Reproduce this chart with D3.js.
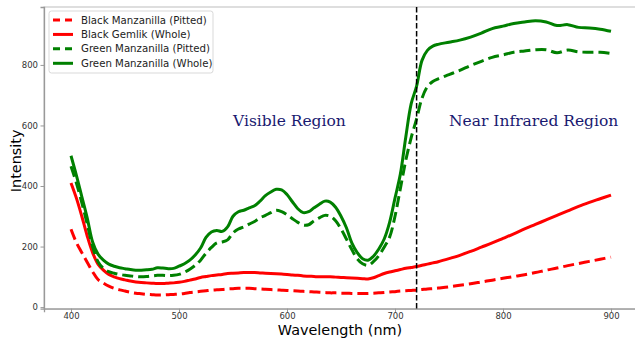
<!DOCTYPE html>
<html>
<head>
<meta charset="utf-8">
<script src="https://cdn.jsdelivr.net/npm/d3@7"></script>
<style>
  html, body { margin: 0; padding: 0; background: #fff; }
  svg { display: block; }
</style>
</head>
<body>
<svg id="chart" width="635" height="340"></svg>
<script>
// Wavelength grid (nm): 5 nm steps through the visible band, 10 nm in the NIR
const wavelengths = [
  400,405,410,415,420,425,430,435,440,445,450,455,460,465,470,475,480,485,490,495,
  500,505,510,515,520,525,530,535,540,545,550,555,560,565,570,575,580,585,590,595,
  600,605,610,615,620,625,630,635,640,645,650,655,660,665,670,675,680,685,690,695,
  700,705,710,715,720,725,730,735,740,
  750,760,770,780,790,800,810,820,830,840,850,860,870,880,890,900
];

const blackManzanillaPitted = [
  257,213,180,148,117,91,79,69,62,57,53,49,46,44,42,41,40,40,41,42,
  43,45,48,50,52,54,56,57,58,60,61,62,62,62,61,60,59,58,57,56,
  55,54,53,52,51,50,49,48,47,47,46,46,45,45,45,45,46,47,48,50,
  51,53,54,55,56,58,60,61,63,
  67,72,77,83,89,95,101,107,114,122,129,137,144,151,158,165
];

const blackGemlikWhole = [
  410,360,300,235,180,142,122,108,100,94,90,86,83,81,80,79,78,78,79,80,
  82,85,89,93,98,101,104,106,108,111,112,113,114,114,114,113,112,111,110,109,
  108,106,105,103,102,101,100,100,100,99,98,97,96,95,94,93,97,104,111,116,
  120,124,128,131,134,138,142,146,150,
  160,171,184,198,212,227,242,258,273,288,303,318,333,346,358,370
];

const greenManzanillaPitted = [
  465,410,345,275,200,150,128,117,112,108,105,103,101,100,101,103,105,105,104,105,
  108,115,125,138,155,178,197,212,215,222,245,258,265,274,283,295,303,312,320,315,
  305,292,280,271,272,285,295,303,300,285,258,225,190,160,143,138,150,170,198,231,
  300,392,485,560,622,690,728,745,754,
  768,782,798,812,825,833,842,846,850,850,840,849,843,842,842,838
];

const greenManzanillaWhole = [
  500,435,365,295,215,175,155,142,135,130,127,124,122,122,123,125,130,129,127,128,
  135,143,155,172,195,230,248,253,250,265,300,315,320,328,335,350,368,380,389,387,
  372,348,325,312,315,328,340,350,347,330,300,262,212,180,160,155,168,192,225,280,
  360,440,562,672,730,815,848,862,868,
  875,882,892,905,920,928,937,942,946,942,930,933,924,922,918,911
];

const seriesNames = [
  "Black Manzanilla (Pitted)",
  "Black Gemlik (Whole)",
  "Green Manzanilla (Pitted)",
  "Green Manzanilla (Whole)"
];

const xTicks = [400, 500, 600, 700, 800, 900];
const yTicks = [0, 200, 400, 600, 800];
const boundaryWavelength = 720;
const regionLabels = ["Visible Region", "Near Infrared Region"];
const regionLabelX = [550, 750];
const regionLabelY = 600;

// Series table built from the arrays above
const series = [
  { name: seriesNames[0], values: blackManzanillaPitted, color: "#ff0000", dashed: true },
  { name: seriesNames[1], values: blackGemlikWhole,      color: "#ff0000", dashed: false },
  { name: seriesNames[2], values: greenManzanillaPitted, color: "#008000", dashed: true },
  { name: seriesNames[3], values: greenManzanillaWhole,  color: "#008000", dashed: false }
];

const svg = d3.select("#chart");
const plotLeft = 44, plotRight = 638, plotTop = 7, plotBottom = 308.7;

const x = d3.scaleLinear().domain([375, 925]).range([plotLeft, plotRight]);
const y = d3.scaleLinear().domain([-5.3, 991.3]).range([plotBottom, plotTop]);

const spineColor = "#999";
const tickTextColor = "#333";

// Frame
svg.append("rect")
  .attr("x", plotLeft).attr("y", plotTop)
  .attr("width", plotRight - plotLeft).attr("height", plotBottom - plotTop)
  .attr("fill", "none").attr("stroke", "#c8c8c8").attr("stroke-width", 1.2);

// Axes
const xAxis = svg.append("g")
  .attr("transform", `translate(0,${plotBottom})`)
  .call(d3.axisBottom(x).tickValues(xTicks).tickSize(3.5).tickPadding(1.2));
const yAxis = svg.append("g")
  .attr("transform", `translate(${plotLeft},0)`)
  .call(d3.axisLeft(y).tickValues(yTicks).tickSize(3.5).tickPadding(2.5));

[xAxis, yAxis].forEach(g => {
  g.select(".domain").attr("stroke", spineColor).attr("stroke-width", 1.3);
  g.selectAll(".tick line").attr("stroke", spineColor).attr("stroke-width", 1);
  g.selectAll(".tick text")
    .attr("fill", tickTextColor)
    .style("font-family", "'DejaVu Sans', sans-serif")
    .style("font-size", "8.5px");
});

// Spectra
const line = d3.line()
  .x((d, i) => x(wavelengths[i]))
  .y(d => y(d))
  .curve(d3.curveCatmullRom.alpha(0.5));

svg.append("g").selectAll("path")
  .data(series)
  .join("path")
  .attr("d", d => line(d.values))
  .attr("fill", "none")
  .attr("stroke", d => d.color)
  .attr("stroke-width", 3)
  .attr("stroke-linejoin", "round")
  .attr("stroke-dasharray", d => d.dashed ? "11,5" : null);

// Visible / NIR boundary
svg.append("line")
  .attr("x1", x(boundaryWavelength)).attr("x2", x(boundaryWavelength))
  .attr("y1", plotTop).attr("y2", plotBottom)
  .attr("stroke", "#000").attr("stroke-width", 1.5)
  .attr("stroke-dasharray", "5.5,2.5");

// Region annotations
svg.append("g").selectAll("text")
  .data(regionLabels)
  .join("text")
  .attr("x", (d, i) => x(regionLabelX[i]))
  .attr("y", y(regionLabelY) + 1)
  .attr("fill", "#191970")
  .style("font-family", "'DejaVu Serif', serif")
  .style("font-size", "15.5px")
  .text(d => d);

// Axis titles
svg.append("text")
  .attr("x", (plotLeft + plotRight) / 2 - 1)
  .attr("y", 334.8)
  .attr("text-anchor", "middle")
  .style("font-family", "'DejaVu Sans', sans-serif")
  .style("font-size", "14.4px")
  .attr("fill", "#000")
  .text("Wavelength (nm)");

svg.append("text")
  .attr("transform", `translate(21,${(plotTop + plotBottom) / 2 + 3}) rotate(-90)`)
  .attr("text-anchor", "middle")
  .style("font-family", "'DejaVu Sans', sans-serif")
  .style("font-size", "14.4px")
  .attr("fill", "#000")
  .text("Intensity");

// Legend
const legend = svg.append("g");
legend.append("rect")
  .attr("x", 49).attr("y", 11)
  .attr("width", 164).attr("height", 62)
  .attr("rx", 2.5)
  .attr("fill", "#fff").attr("fill-opacity", 0.85)
  .attr("stroke", "#d9d9d9").attr("stroke-width", 1);

const rowY = d3.scaleLinear().domain([0, 3]).range([20, 63.3]);
const rows = legend.selectAll("g.row")
  .data(series)
  .join("g")
  .attr("class", "row")
  .attr("transform", (d, i) => `translate(0,${rowY(i)})`);

rows.append("line")
  .attr("x1", 53).attr("x2", 73)
  .attr("y1", 0).attr("y2", 0)
  .attr("stroke", d => d.color)
  .attr("stroke-width", 3)
  .attr("stroke-dasharray", d => d.dashed ? "7,5" : null);

rows.append("text")
  .attr("x", 81).attr("y", 3.6)
  .style("font-family", "'DejaVu Sans', sans-serif")
  .style("font-size", "10.2px")
  .attr("fill", "#222")
  .text(d => d.name);
</script>
</body>
</html>
